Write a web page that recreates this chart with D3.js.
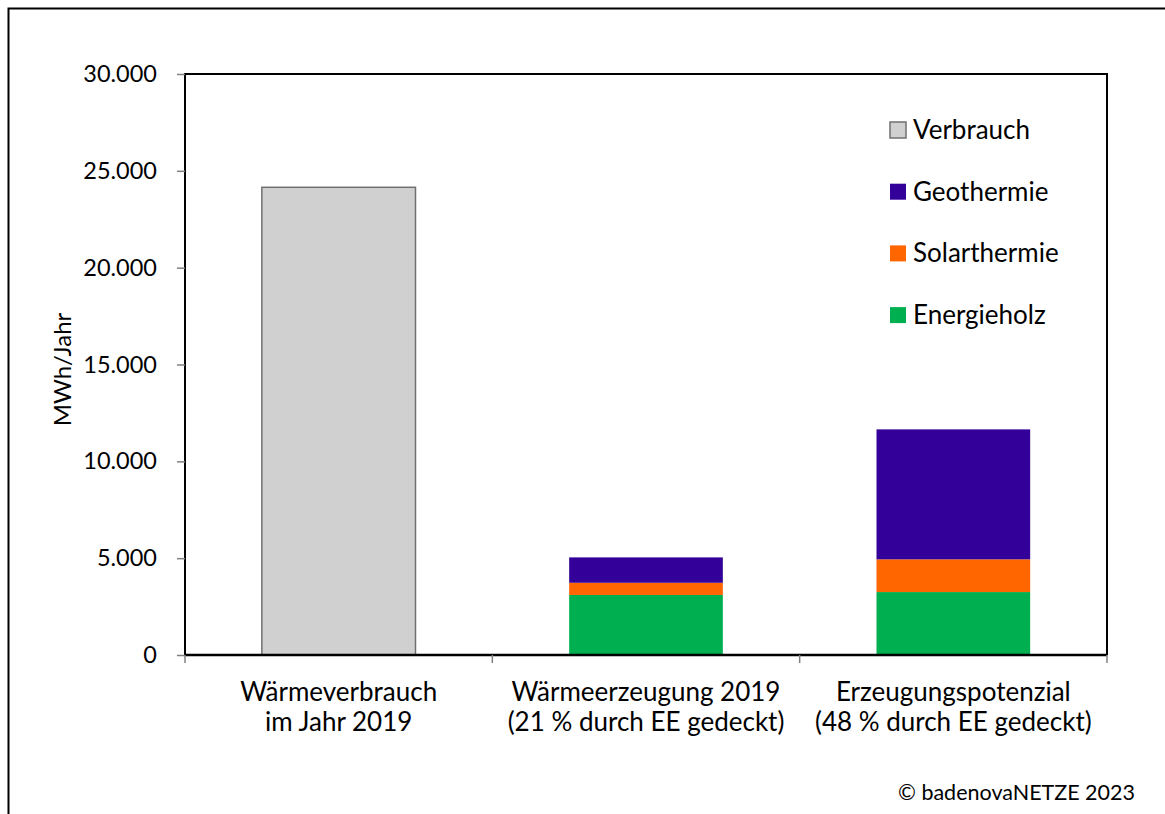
<!DOCTYPE html>
<html>
<head>
<meta charset="utf-8">
<script src="https://cdn.jsdelivr.net/npm/d3@7/dist/d3.min.js"></script>
<style>
  html, body { margin: 0; padding: 0; background: #fff; }
  svg { display: block; font-family: Lato, "Open Sans", sans-serif; }
</style>
</head>
<body>
<svg id="chart" width="1165" height="814"></svg>
<script>
// Categories (two-line labels)
const categories = [
  ["Wärmeverbrauch", "im Jahr 2019"],
  ["Wärmeerzeugung 2019", "(21 % durch EE gedeckt)"],
  ["Erzeugungspotenzial", "(48 % durch EE gedeckt)"]
];
// Series values in MWh/Jahr, one entry per category
const verbrauch    = [24150, 0, 0];
const energieholz  = [0, 3100, 3250];
const solarthermie = [0, 630, 1690];
const geothermie   = [0, 1310, 6710];

const yTicks = [0, 5000, 10000, 15000, 20000, 25000, 30000];
const legendItems = ["Verbrauch", "Geothermie", "Solarthermie", "Energieholz"];

const colors = {
  Verbrauch: "#d0d0d0",
  Geothermie: "#330099",
  Solarthermie: "#ff6600",
  Energieholz: "#00b050"
};

const svg = d3.select("#chart");
const W = 1165, H = 814;
const plot = { left: 185, top: 74, right: 1107, bottom: 655 };

// outer frame (extends beyond the right and bottom edges)
svg.append("path")
  .attr("d", `M8.5,${H + 5} L8.5,8.5 L${W + 5},8.5`)
  .attr("fill", "none").attr("stroke", "#000").attr("stroke-width", 2);

const x = d3.scaleBand()
  .domain(d3.range(categories.length))
  .range([plot.left, plot.right])
  .paddingInner(0.5).paddingOuter(0.25);

const y = d3.scaleLinear().domain([0, 30000]).range([plot.bottom, plot.top]);

const fmt = d => d3.format(",")(d).replace(/,/g, ".");

// plot border (left, top, right)
svg.append("path")
  .attr("d", `M${plot.left},${plot.bottom} L${plot.left},${plot.top} L${plot.right},${plot.top} L${plot.right},${plot.bottom}`)
  .attr("fill", "none").attr("stroke", "#000").attr("stroke-width", 2);

// y axis
const yAxis = svg.append("g")
  .attr("transform", `translate(${plot.left},0)`)
  .call(d3.axisLeft(y).tickValues(yTicks).tickFormat(fmt).tickSize(8).tickPadding(20));
yAxis.select(".domain").remove();
yAxis.selectAll(".tick line").attr("stroke", "#808080").attr("stroke-width", 1.5);
yAxis.selectAll(".tick text")
  .attr("font-size", 23.5).attr("fill", "#000")
  .attr("font-family", "Lato, sans-serif");

// stacked bars
const stackData = categories.map((c, i) => ({
  i,
  Verbrauch: verbrauch[i],
  Energieholz: energieholz[i],
  Solarthermie: solarthermie[i],
  Geothermie: geothermie[i]
}));
const stackKeys = ["Verbrauch", "Energieholz", "Solarthermie", "Geothermie"];
const series = d3.stack().keys(stackKeys)(stackData);

series.forEach(s => {
  svg.append("g")
    .selectAll("rect")
    .data(s.filter(d => d[1] - d[0] > 0))
    .join("rect")
    .attr("x", d => x(d.data.i))
    .attr("width", x.bandwidth())
    .attr("y", d => y(d[1]))
    .attr("height", d => y(d[0]) - y(d[1]))
    .attr("fill", colors[s.key])
    .attr("stroke", s.key === "Verbrauch" ? "#707070" : "none")
    .attr("stroke-width", s.key === "Verbrauch" ? 1.5 : 0);
});

// x axis line and tick marks at category boundaries
svg.append("line")
  .attr("x1", plot.left).attr("x2", plot.right)
  .attr("y1", plot.bottom).attr("y2", plot.bottom)
  .attr("stroke", "#000").attr("stroke-width", 2.5);

const step = (plot.right - plot.left) / categories.length;
const boundaries = d3.range(categories.length + 1).map(k => plot.left + k * step);
svg.append("g").selectAll("line")
  .data(boundaries)
  .join("line")
  .attr("x1", d => d).attr("x2", d => d)
  .attr("y1", plot.bottom).attr("y2", plot.bottom + 8)
  .attr("stroke", "#808080").attr("stroke-width", 1.5);

// category labels
const catG = svg.append("g");
categories.forEach((lines, i) => {
  const cx = x(i) + x.bandwidth() / 2;
  const t = catG.append("text")
    .attr("x", cx).attr("text-anchor", "middle")
    .attr("font-size", 26).attr("fill", "#000");
  lines.forEach((ln, j) => {
    t.append("tspan").attr("x", cx).attr("y", 701 + j * 30).text(ln);
  });
});

// y axis title
svg.append("text")
  .attr("transform", `translate(71,${(plot.top + plot.bottom) / 2 + 5}) rotate(-90)`)
  .attr("text-anchor", "middle")
  .attr("font-size", 24).attr("fill", "#000")
  .text("MWh/Jahr");

// legend
const legend = svg.append("g");
legendItems.forEach((name, k) => {
  const ly = 130 + k * 61.7;
  legend.append("rect")
    .attr("x", 890).attr("y", ly - 8)
    .attr("width", 16).attr("height", 16)
    .attr("fill", colors[name])
    .attr("stroke", name === "Verbrauch" ? "#707070" : "none")
    .attr("stroke-width", name === "Verbrauch" ? 1.5 : 0);
  legend.append("text")
    .attr("x", 913).attr("y", ly + 9)
    .attr("font-size", 26).attr("fill", "#000")
    .text(name);
});

// source note
svg.append("text")
  .attr("x", 1135).attr("y", 800)
  .attr("text-anchor", "end")
  .attr("font-size", 21.5).attr("fill", "#000")
  .text("© badenovaNETZE 2023");
</script>
</body>
</html>
